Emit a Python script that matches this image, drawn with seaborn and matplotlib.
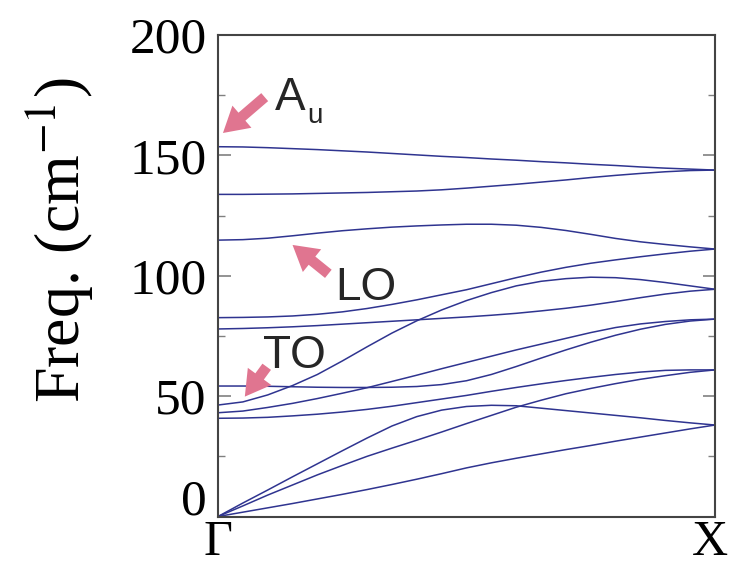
import matplotlib
matplotlib.use('Agg')  # headless
import matplotlib.pyplot as plt
import matplotlib.transforms as mtransforms
from matplotlib.ticker import MultipleLocator
import pandas as pd
import seaborn as sns

# wave vector along Gamma -> X (fraction of the path)
q = [0.0, 0.05, 0.1, 0.15, 0.2, 0.25, 0.3, 0.35, 0.4, 0.45, 0.5,
     0.55, 0.6, 0.65, 0.7, 0.75, 0.8, 0.85, 0.9, 0.95, 1.0]

# phonon branches (cm^-1)
acoustic_1 = [0.0, 1.8, 3.6, 5.4, 7.3, 9.2, 11.2, 13.3, 15.5, 17.8, 20.2,
              22.3, 24.2, 26.0, 27.8, 29.5, 31.3, 33.0, 34.7, 36.4, 38.0]
acoustic_2 = [0.0, 4.4, 8.9, 13.1, 17.3, 21.2, 25.0, 28.4, 31.7, 35.1, 38.6,
              42.0, 45.4, 48.3, 51.0, 53.2, 55.2, 57.0, 58.5, 59.9, 60.9]
acoustic_3 = [0.0, 5.6, 11.0, 16.5, 21.9, 27.3, 32.6, 37.6, 41.5, 44.2, 45.7,
              46.2, 46.0, 45.0, 44.0, 43.0, 42.0, 41.0, 39.9, 38.9, 38.0]
optical_4 = [40.8, 40.9, 41.2, 41.8, 42.5, 43.4, 44.5, 45.8, 47.3, 48.8, 50.3,
             52.0, 53.6, 55.1, 56.5, 57.8, 59.0, 60.0, 60.7, 60.9, 60.9]
optical_5 = [43.1, 43.8, 45.3, 47.0, 49.0, 51.2, 53.5, 56.1, 58.7, 61.4, 64.0,
             66.6, 69.2, 71.6, 74.0, 76.4, 78.5, 80.0, 81.0, 81.7, 82.0]
optical_6 = [54.2, 54.2, 54.1, 53.9, 53.7, 53.6, 53.6, 53.7, 54.0, 54.8, 56.4,
             59.0, 62.3, 65.8, 69.2, 72.4, 75.3, 77.8, 79.8, 81.2, 82.0]
optical_7 = [46.3, 47.6, 50.5, 54.4, 59.0, 64.6, 70.5, 76.2, 81.3, 85.8, 89.7,
             93.0, 95.8, 97.7, 98.8, 99.4, 99.2, 98.4, 97.2, 95.8, 94.4]
optical_8 = [77.9, 78.1, 78.4, 78.8, 79.3, 79.9, 80.5, 81.1, 81.7, 82.3, 82.9,
             83.6, 84.4, 85.4, 86.5, 87.8, 89.3, 90.9, 92.4, 93.6, 94.4]
optical_9 = [82.6, 82.7, 82.9, 83.3, 84.0, 85.0, 86.4, 88.1, 90.0, 92.1, 94.2,
             96.7, 99.2, 101.5, 103.5, 105.2, 106.6, 107.9, 109.1, 110.2, 111.1]
optical_lo = [114.8, 115.0, 115.6, 116.6, 117.7, 118.7, 119.5, 120.2, 120.7, 121.1, 121.4,
              121.4, 121.0, 120.1, 118.8, 117.2, 115.5, 114.1, 113.0, 112.0, 111.1]
optical_11 = [133.8, 133.8, 133.9, 134.0, 134.2, 134.4, 134.6, 134.9, 135.2, 135.7, 136.4,
              137.2, 138.0, 138.9, 139.8, 140.8, 141.7, 142.5, 143.2, 143.7, 143.9]
optical_au = [153.6, 153.5, 153.2, 152.8, 152.4, 151.9, 151.4, 150.8, 150.2, 149.6, 149.1,
              148.5, 148.0, 147.4, 146.9, 146.3, 145.8, 145.2, 144.7, 144.3, 143.9]

branches = {
    'a1': acoustic_1, 'a2': acoustic_2, 'a3': acoustic_3,
    'o4': optical_4, 'o5': optical_5, 'o6': optical_6, 'o7': optical_7,
    'o8': optical_8, 'o9': optical_9, 'lo': optical_lo, 'o11': optical_11,
    'au': optical_au,
}
df = pd.concat([pd.DataFrame({'q': q, 'freq': f, 'band': name})
                for name, f in branches.items()], ignore_index=True)

line_color = '#2f3490'
arrow_color = '#e07590'

sns.set_style('ticks')
plt.rcParams['font.family'] = ['Liberation Serif', 'DejaVu Serif']
plt.rcParams['mathtext.fontset'] = 'stix'

fig = plt.figure(figsize=(7.31, 5.72), dpi=100)
ax = fig.add_axes([0.2982, 0.0970, 0.680, 0.8418])
sns.lineplot(data=df, x='q', y='freq', units='band', estimator=None,
             color=line_color, lw=1.1, ax=ax, legend=False)

ax.set_xlim(0, 1)
ax.set_ylim(0, 200)
ax.set_yticks([0, 50, 100, 150, 200])
ax.yaxis.set_minor_locator(MultipleLocator(25))
ax.tick_params(axis='y', which='both', direction='in', left=True, right=True,
               color='#808080', labelcolor='black', labelsize=37, pad=8)
ax.tick_params(axis='y', which='major', length=9, width=1.2)
ax.tick_params(axis='y', which='minor', length=5, width=1.0)
ax.set_xticks([0, 1], ['Γ', 'X'])
ax.tick_params(axis='x', length=0, labelsize=36, pad=2, labelcolor='black')
ax.set_xlabel('')
ax.set_ylabel('')
for s in ax.spines.values():
    s.set_color('#444444')
    s.set_linewidth(1.5)

# lift the "0" label clear of the Gamma label
lift = mtransforms.ScaledTranslation(0, 14 / 72, fig.dpi_scale_trans)
zero_lbl = ax.get_yticklabels()[0]
zero_lbl.set_transform(zero_lbl.get_transform() + lift)
# keep the X label inside the canvas
nudge = mtransforms.ScaledTranslation(-4 / 72, 0, fig.dpi_scale_trans)
x_lbl = ax.get_xticklabels()[1]
x_lbl.set_transform(x_lbl.get_transform() + nudge)

fig.text(60 / 731, 1 - 240 / 572, 'Freq. (cm$^{-1}$)', fontsize=46, rotation=90,
         ha='center', va='center', color='black')

# annotations
sans = ['Liberation Sans', 'DejaVu Sans']
arrow = dict(arrowstyle='simple,head_length=0.9,head_width=1.05,tail_width=0.38',
             color=arrow_color, mutation_scale=20, shrinkA=0, shrinkB=0, lw=0)
ax.annotate('', xy=(0.01, 159.3), xytext=(0.094, 174.2), arrowprops=arrow)
ax.text(0.115, 169.0, 'A', fontsize=33, family=sans, ha='left', va='baseline')
ax.text(0.179, 163.5, 'u', fontsize=20, family=sans, ha='left', va='baseline')
ax.annotate('', xy=(0.15, 112.8), xytext=(0.222, 100.8), arrowprops=arrow)
ax.text(0.235, 90.0, 'LO', fontsize=33, family=sans, ha='left', va='baseline')
ax.annotate('', xy=(0.054, 49.8), xytext=(0.098, 62.2), arrowprops=arrow)
ax.text(0.091, 61.5, 'TO', fontsize=33, family=sans, ha='left', va='baseline')

fig.savefig('out.png', dpi=100)
plt.close(fig)
